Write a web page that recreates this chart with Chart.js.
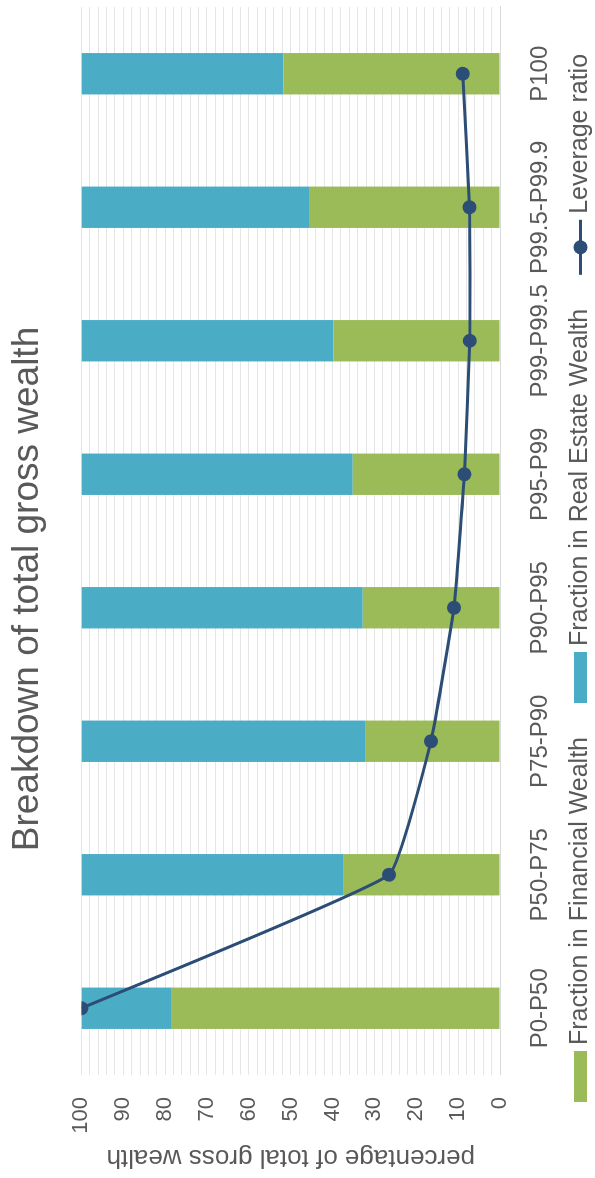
<!DOCTYPE html>
<html>
<head>
<meta charset="utf-8">
<script src="https://cdn.jsdelivr.net/npm/chart.js@4.4.1/dist/chart.umd.min.js"></script>
<style>
  html, body { margin: 0; padding: 0; background: #fff; overflow: hidden; }
  /* chart is laid out landscape and turned a quarter turn */
  #wrap {
    position: absolute; left: 0; top: 0;
    width: 1178px; height: 595px;
    transform-origin: 0 0;
    transform: translate(0, 1178px) rotate(-90deg);
  }
</style>
</head>
<body>
<div id="wrap"><canvas id="c" width="1178" height="595"></canvas></div>
<script>
const groups = ["P0-P50", "P50-P75", "P75-P90", "P90-P95", "P95-P99", "P99-P99.5", "P99.5-P99.9", "P100"];
const financial = [78.6, 37.3, 32.1, 32.8, 35.2, 39.8, 45.6, 51.7];
const realEstate = [21.4, 62.7, 67.9, 67.2, 64.8, 60.2, 54.4, 48.3];
const leverage = [100, 26.5, 16.5, 11.0, 8.5, 7.2, 7.3, 8.9];

const FONT = '"Liberation Sans", Arial, sans-serif';
const GREY = "#595959";

// legend drawn as one row under the axis labels
const legendRow = {
  id: "legendRow",
  afterDraw(chart) {
    const ctx = chart.ctx;
    const y = 580.5;
    let x = 76;
    ctx.save();
    ctx.font = "25px " + FONT;
    ctx.textBaseline = "middle";
    chart.data.datasets.forEach(ds => {
      if (ds.type === "line") {
        ctx.strokeStyle = ds.borderColor;
        ctx.lineWidth = 3;
        ctx.beginPath();
        ctx.moveTo(x, y);
        ctx.lineTo(x + 55, y);
        ctx.stroke();
        ctx.fillStyle = ds.borderColor;
        ctx.beginPath();
        ctx.arc(x + 27.5, y, 7, 0, Math.PI * 2);
        ctx.fill();
        x += 55;
      } else {
        ctx.fillStyle = ds.backgroundColor;
        ctx.fillRect(x, y - 6.5, 51, 13);
        x += 51;
      }
      x += 6;
      ctx.fillStyle = GREY;
      ctx.fillText(ds.label, x, y);
      x += ctx.measureText(ds.label).width + 34;
    });
    ctx.restore();
  }
};

new Chart(document.getElementById("c"), {
  type: "bar",
  data: {
    labels: groups,
    datasets: [
      {
        label: "Fraction in Financial Wealth",
        data: financial,
        backgroundColor: "#9BBB59",
        barPercentage: 0.31,
        categoryPercentage: 1,
        order: 1
      },
      {
        label: "Fraction in Real Estate Wealth",
        data: realEstate,
        backgroundColor: "#4BACC6",
        barPercentage: 0.31,
        categoryPercentage: 1,
        order: 1
      },
      {
        type: "line",
        label: "Leverage ratio",
        data: leverage,
        stack: "lev",
        borderColor: "#2C4D75",
        backgroundColor: "#2C4D75",
        borderWidth: 3,
        pointRadius: 7,
        pointBackgroundColor: "#2C4D75",
        pointBorderWidth: 0,
        tension: 0.1,
        order: 0
      }
    ]
  },
  options: {
    responsive: false,
    animation: false,
    layout: { padding: { left: 0, right: 0, top: 0, bottom: 40 } },
    plugins: {
      legend: { display: false },
      tooltip: { enabled: false },
      title: {
        display: true,
        text: "Breakdown of total gross wealth",
        color: GREY,
        font: { family: FONT, size: 37, weight: "normal", lineHeight: 1.2 },
        padding: { top: 6, bottom: 31 }
      }
    },
    scales: {
      x: {
        stacked: true,
        offset: true,
        grid: { display: false, drawTicks: false },
        border: { display: true, color: "#d9d9d9", width: 1 },
        ticks: {
          color: GREY,
          font: { family: FONT, size: 24 },
          padding: 26,
          maxRotation: 0,
          minRotation: 0,
          autoSkip: false
        },
        afterFit(scale) { scale.height = 55; }
      },
      y: {
        stacked: true,
        min: 0,
        max: 100,
        grid: { color: "#e6e6e6", lineWidth: 1, drawTicks: false },
        border: { display: false },
        ticks: {
          stepSize: 2,
          autoSkip: false,
          color: GREY,
          font: { family: FONT, size: 22 },
          padding: 22,
          callback: v => (v % 10 === 0 ? v : "")
        },
        title: {
          display: true,
          text: "percentage of total gross wealth",
          color: GREY,
          font: { family: FONT, size: 26, lineHeight: 1.2 },
          padding: { top: 5, bottom: 6 }
        },
        afterFit(scale) { scale.width = 103; }
      }
    }
  },
  plugins: [legendRow]
});
</script>
</body>
</html>
